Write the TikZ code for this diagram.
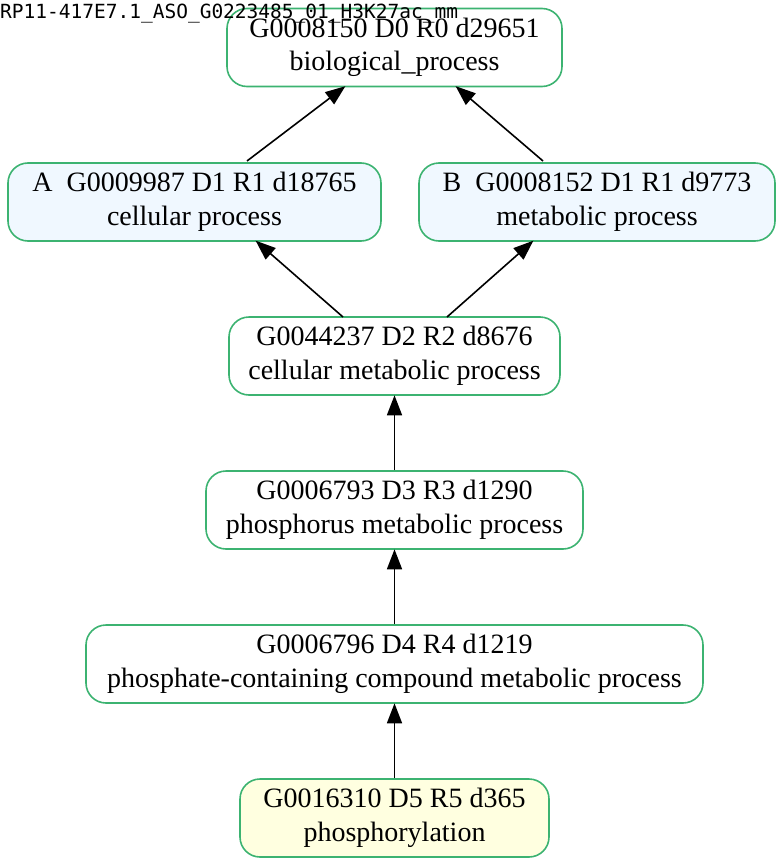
\documentclass[tikz,border=0pt]{standalone}
\usepackage{fontspec}
\setmainfont{Liberation Serif}
\newfontfamily\titlefont{DejaVu Sans Mono}
\usetikzlibrary{arrows.meta}
\definecolor{termline}{RGB}{60,179,113}
\definecolor{termblue}{RGB}{240,248,255}
\definecolor{termyellow}{RGB}{255,255,224}
\tikzset{
  term/.style={draw=termline, line width=1.6pt, rounded corners=20pt,
    fill=white, align=center, minimum height=78pt, inner sep=0pt,
    font=\fontsize{28}{33.6}\selectfont},
  isa/.style={-{Triangle[length=20pt,width=15pt]}, line width=1.6pt, shorten >=-0.5pt}
}
\begin{document}
\begin{tikzpicture}[x=1pt,y=-1pt]
  \useasboundingbox (0,0) rectangle (783,867);
  \draw
    (394.5,47.5) node[term, minimum width=335pt] (bp){G0008150 D0 R0 d29651\\biological\_process}
    (194.5,202) node[term, fill=termblue, minimum width=373pt] (cp){A~~G0009987 D1 R1 d18765\\cellular process}
    (597,202) node[term, fill=termblue, minimum width=356pt] (mp){B~~G0008152 D1 R1 d9773\\metabolic process}
    (394.5,356) node[term, minimum width=331pt] (cmp){G0044237 D2 R2 d8676\\cellular metabolic process}
    (394.5,510) node[term, minimum width=377pt] (pmp){G0006793 D3 R3 d1290\\phosphorus metabolic process}
    (394.5,664) node[term, minimum width=617pt] (pcc){G0006796 D4 R4 d1219\\phosphate-containing compound metabolic process}
    (394.5,818) node[term, fill=termyellow, minimum width=309pt] (ph){G0016310 D5 R5 d365\\phosphorylation};
  \node[anchor=base west, font=\titlefont\fontsize{19.5}{22}\selectfont, inner sep=0pt] (title) at (0,19) {RP11-417E7.1\_ASO\_G0223485\_01\_H3K27ac\_mm};
  \begin{scope}[isa]
    \draw (247,161) to (345,86.5);
    \draw (543,161) to (456,86.5);
    \draw (343,317) to (256,241);
    \draw (447,317) to (533,241);
    \draw (ph) to (pcc);
    \draw (pcc) to (pmp);
    \draw (pmp) to (cmp);
  \end{scope}
\end{tikzpicture}
\end{document}
